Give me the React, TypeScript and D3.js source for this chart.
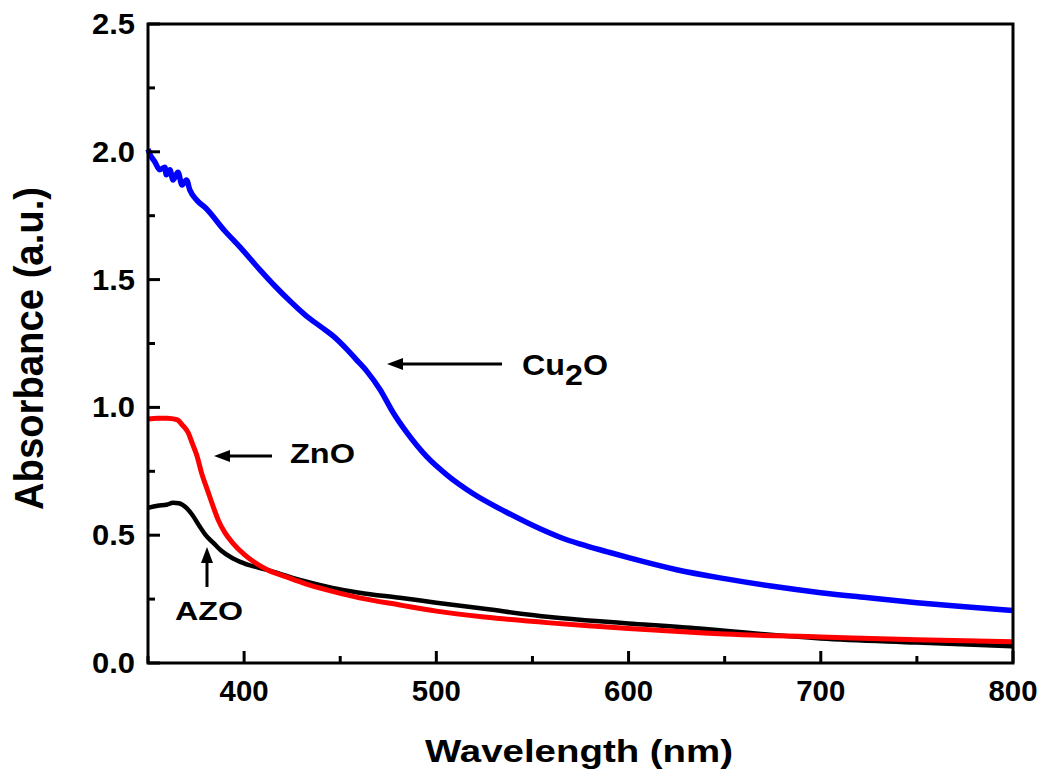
import React, { useEffect, useRef } from "react";
import * as d3 from "d3";

// Wavelength (nm) and absorbance (a.u.)
const cu2oWl = [350, 351, 353.6, 356, 358.8, 359.5, 361.4, 363, 365.6, 367.7, 370, 371.8, 375.5, 380, 390, 398, 408, 416, 424, 432, 440, 447, 453.5, 458, 464, 470.7, 477.5, 484.8, 495, 505.6, 519, 537, 554, 565, 575, 589, 600, 625, 650, 675, 700, 725, 750, 775, 800];
const cu2oAbs = [2.01, 1.99, 1.96, 1.93, 1.94, 1.91, 1.93, 1.89, 1.92, 1.87, 1.89, 1.85, 1.81, 1.78, 1.69, 1.626, 1.54, 1.475, 1.415, 1.36, 1.315, 1.275, 1.227, 1.19, 1.14, 1.07, 0.98, 0.9, 0.807, 0.735, 0.663, 0.588, 0.525, 0.49, 0.465, 0.435, 0.412, 0.365, 0.33, 0.3, 0.275, 0.255, 0.236, 0.22, 0.205];

const znoWl = [350, 355, 360, 365, 368, 371, 373, 375.5, 378, 381, 384, 386.5, 390, 394, 400, 405, 412, 422, 432, 443, 460, 481, 500, 525, 559, 585, 600, 637, 650, 700, 750, 800];
const znoAbs = [0.955, 0.958, 0.958, 0.952, 0.93, 0.9, 0.86, 0.81, 0.74, 0.675, 0.61, 0.56, 0.51, 0.47, 0.425, 0.396, 0.365, 0.337, 0.31, 0.286, 0.255, 0.227, 0.203, 0.18, 0.157, 0.143, 0.135, 0.118, 0.113, 0.102, 0.091, 0.083];

const azoWl = [350, 355, 360, 363, 366, 370, 373, 377, 380, 384, 388, 394, 400, 412, 429, 446, 460, 481, 500, 525, 559, 585, 600, 637, 650, 700, 750, 800];
const azoAbs = [0.607, 0.615, 0.62, 0.627, 0.625, 0.607, 0.58, 0.533, 0.5, 0.47, 0.44, 0.41, 0.39, 0.364, 0.325, 0.294, 0.275, 0.255, 0.236, 0.212, 0.18, 0.163, 0.155, 0.135, 0.126, 0.096, 0.08, 0.065];

const xTicks = [400, 500, 600, 700, 800];
const xMinor = [350, 450, 550, 650, 750];
const yTicks = [0.0, 0.5, 1.0, 1.5, 2.0, 2.5];
const yMinor = [0.25, 0.75, 1.25, 1.75, 2.25];

const App = () => {
  const ref = useRef<SVGSVGElement>(null);

  useEffect(() => {
    const svg = d3.select(ref.current);
    svg.selectAll("*").remove();

    // Plot frame in pixels
    const left = 148,
      right = 1013,
      top = 24,
      bottom = 663;
    const font = "'Liberation Sans', Arial, sans-serif";

    const x = d3.scaleLinear().domain([350, 800]).range([left, right]);
    const y = d3.scaleLinear().domain([0, 2.5]).range([bottom, top]);

    svg.append("rect").attr("width", 1046).attr("height", 773).attr("fill", "#fff");

    // Curves
    const line = d3
      .line<[number, number]>()
      .x((d) => x(d[0]))
      .y((d) => y(d[1]))
      .curve(d3.curveMonotoneX);

    const series = [
      { wl: cu2oWl, abs: cu2oAbs, color: "#0000ff", width: 5.5 },
      { wl: azoWl, abs: azoAbs, color: "#000000", width: 4.5 },
      { wl: znoWl, abs: znoAbs, color: "#ff0000", width: 5 },
    ];
    series.forEach((s) => {
      svg
        .append("path")
        .datum(s.wl.map((w, i) => [w, s.abs[i]] as [number, number]))
        .attr("fill", "none")
        .attr("stroke", s.color)
        .attr("stroke-width", s.width)
        .attr("stroke-linejoin", "round")
        .attr("d", line);
    });

    // Frame
    svg
      .append("rect")
      .attr("x", left)
      .attr("y", top)
      .attr("width", right - left)
      .attr("height", bottom - top)
      .attr("fill", "none")
      .attr("stroke", "#000")
      .attr("stroke-width", 3);

    // Inward ticks on the bottom and left axes
    const tick = (x1: number, y1: number, x2: number, y2: number) =>
      svg
        .append("line")
        .attr("x1", x1)
        .attr("y1", y1)
        .attr("x2", x2)
        .attr("y2", y2)
        .attr("stroke", "#000")
        .attr("stroke-width", 3);

    xTicks.forEach((t) => tick(x(t), bottom, x(t), bottom - 12));
    xMinor.forEach((t) => tick(x(t), bottom, x(t), bottom - 7));
    yTicks.forEach((t) => tick(left, y(t), left + 12, y(t)));
    yMinor.forEach((t) => tick(left, y(t), left + 7, y(t)));

    // Tick labels
    svg
      .selectAll(".xlab")
      .data(xTicks)
      .enter()
      .append("text")
      .attr("x", (d) => x(d))
      .attr("y", 701)
      .attr("text-anchor", "middle")
      .attr("font-family", font)
      .attr("font-weight", "bold")
      .attr("font-size", 29)
      .attr("textLength", 49)
      .attr("lengthAdjust", "spacingAndGlyphs")
      .text((d) => d);

    svg
      .selectAll(".ylab")
      .data(yTicks)
      .enter()
      .append("text")
      .attr("x", 135)
      .attr("y", (d) => y(d) + 10)
      .attr("text-anchor", "end")
      .attr("font-family", font)
      .attr("font-weight", "bold")
      .attr("font-size", 29)
      .attr("textLength", 43)
      .attr("lengthAdjust", "spacingAndGlyphs")
      .text((d) => d.toFixed(1));

    // Axis titles
    svg
      .append("text")
      .attr("x", 425)
      .attr("y", 762)
      .attr("font-family", font)
      .attr("font-weight", "bold")
      .attr("font-size", 32)
      .attr("textLength", 308)
      .attr("lengthAdjust", "spacingAndGlyphs")
      .text("Wavelength (nm)");

    svg
      .append("text")
      .attr("transform", "translate(43,510) rotate(-90)")
      .attr("font-family", font)
      .attr("font-weight", "bold")
      .attr("font-size", 40)
      .attr("textLength", 323)
      .attr("lengthAdjust", "spacingAndGlyphs")
      .text("Absorbance (a.u.)");

    // Arrows with filled heads
    const arrow = (x1: number, y1: number, x2: number, y2: number) => {
      const a = Math.atan2(y2 - y1, x2 - x1);
      const len = 16,
        half = 6;
      const bx = x2 - len * Math.cos(a),
        by = y2 - len * Math.sin(a);
      svg
        .append("line")
        .attr("x1", x1)
        .attr("y1", y1)
        .attr("x2", bx)
        .attr("y2", by)
        .attr("stroke", "#000")
        .attr("stroke-width", 3);
      svg
        .append("path")
        .attr(
          "d",
          `M${x2},${y2}L${bx + half * Math.sin(a)},${by - half * Math.cos(a)}L${bx - half * Math.sin(a)},${by + half * Math.cos(a)}Z`
        )
        .attr("fill", "#000");
    };

    arrow(502, 364, 387, 364);
    arrow(272, 456, 214, 456);
    arrow(207, 587, 207, 547);

    // Labels
    const label = (tx: number, ty: number, size: number, len: number) =>
      svg
        .append("text")
        .attr("x", tx)
        .attr("y", ty)
        .attr("font-family", font)
        .attr("font-weight", "bold")
        .attr("font-size", size)
        .attr("textLength", len)
        .attr("lengthAdjust", "spacingAndGlyphs");

    const cu = label(522, 375, 30, 86);
    cu.append("tspan").text("Cu");
    cu.append("tspan").attr("dy", 10).text("2");
    cu.append("tspan").attr("dy", -10).text("O");

    label(290, 463, 28, 65).text("ZnO");
    label(175, 620, 25, 68).text("AZO");
  }, []);

  return (
    <svg
      ref={ref}
      width={1046}
      height={773}
      style={{ position: "absolute", left: 0, top: 0 }}
    ></svg>
  );
};

export default App;
